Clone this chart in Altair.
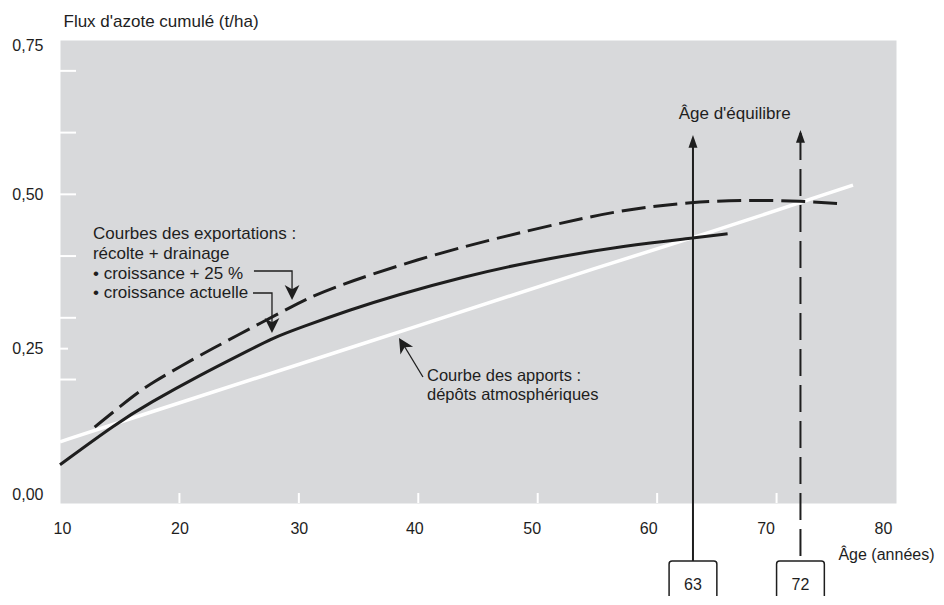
import altair as alt
import pandas as pd

FONT = "Liberation Sans"
INK = "#1e1e1e"
PANEL = "#d8d9db"

# ---------------- data ----------------
x_labels = [10, 20, 30, 40, 50, 60, 70, 80]
y_labels = [0, 0.25, 0.5, 0.75]
x_minor = [20, 30, 40, 50, 60, 70]
y_minor_long = [0.2, 0.3, 0.4, 0.5, 0.6, 0.7]
y_minor_short = [0.25]

# Courbe des apports : dépôts atmosphériques (white)
age_apports = [10, 14.8, 34.3, 57.7, 63, 76.4]
val_apports = [0.099, 0.130, 0.251, 0.399, 0.429, 0.515]

# Exportations, croissance actuelle (solid)
age_actuelle = [10, 14.8, 17.5, 21.7, 25.9, 27.8, 30.1, 34.3, 38.2, 43.7, 49.3, 57.7, 63, 65.9]
val_actuelle = [0.062, 0.130, 0.162, 0.207, 0.248, 0.267, 0.284, 0.313, 0.337, 0.366, 0.391, 0.418, 0.429, 0.436]

# Exportations, croissance + 25 % (dashed)
age_plus25 = [12.9, 15.9, 17.5, 21.7, 24.5, 29.5, 32.1, 41.0, 49.3, 56.9, 63, 68, 72, 75.3]
val_plus25 = [0.123, 0.170, 0.193, 0.239, 0.268, 0.319, 0.345, 0.402, 0.442, 0.475, 0.488, 0.491, 0.489, 0.485]

# Âges d'équilibre
eq_ages = [63, 72]
eq_labels = ["63", "72"]

# annotation texts (anchor in data units: age, value)
ann_text = ["Courbes des exportations :", "récolte + drainage",
            "• croissance + 25 %", "• croissance actuelle"]
ann_age = [12.76, 12.76, 12.76, 12.76]
ann_val = [0.4277, 0.3953, 0.3629, 0.3321]

app_text = ["Courbe des apports :", "dépôts atmosphériques"]
app_age = [40.73, 40.73]
app_val = [0.1975, 0.1665]

title_eq = "Âge d'équilibre"
title_eq_age = 66.49
title_eq_val = 0.622

# leader lines (annotation pointers)
lead_group = ["p25", "p25", "p25", "act", "act", "act", "app", "app"]
lead_age = [26.24, 29.43, 29.43, 26.16, 27.75, 27.75, 40.39, 38.72]
lead_val = [0.3758, 0.3758, 0.3418, 0.3402, 0.3402, 0.2883, 0.2041, 0.2576]

# arrow heads of the pointers
head_age = [29.43, 27.75, 38.71]
head_val = [0.341, 0.2875, 0.2569]
head_ang = [180, 180, 328.4]

# ---------------- frames ----------------
df_app = pd.DataFrame({"age": age_apports, "val": val_apports})
df_act = pd.DataFrame({"age": age_actuelle, "val": val_actuelle})
df_p25 = pd.DataFrame({"age": age_plus25, "val": val_plus25})
df_xt = pd.DataFrame({"age": x_minor})
df_ytl = pd.DataFrame({"val": y_minor_long})
df_yts = pd.DataFrame({"val": y_minor_short})
df_ann = pd.DataFrame({"age": ann_age, "val": ann_val, "t": ann_text})
df_appt = pd.DataFrame({"age": app_age, "val": app_val, "t": app_text})
df_eqt = pd.DataFrame({"age": [title_eq_age], "val": [title_eq_val], "t": [title_eq]})
df_lead = pd.DataFrame({"age": lead_age, "val": lead_val, "g": lead_group,
                        "o": list(range(len(lead_age)))})
df_head = pd.DataFrame({"age": head_age, "val": head_val, "ang": head_ang})

W, H = 836, 463
xs = alt.Scale(domain=[10, 80], nice=False, zero=False)
ys = alt.Scale(domain=[0, 0.75], nice=False, zero=False)

x_axis = alt.Axis(
    values=x_labels, format="d", domain=False, ticks=False, grid=False, labelFlush=False,
    labelPadding=17, labelFontSize=16, labelFont=FONT, labelColor=INK,
    labelOffset={"condition": [
        {"test": "datum.value >= 75", "value": -13},
        {"test": "datum.value >= 65", "value": -11},
        {"test": "datum.value >= 55", "value": -9},
        {"test": "datum.value >= 45", "value": -6},
        {"test": "datum.value >= 35", "value": -4},
        {"test": "datum.value <= 10", "value": 2},
    ], "value": 0},
    title="Âge (années)", titleX=874, titleY=56, titleAlign="right",
    titleBaseline="alphabetic", titleFontSize=16, titleFontWeight="normal",
    titleFont=FONT, titleColor=INK,
)
y_axis = alt.Axis(
    values=y_labels, labelExpr="replace(format(datum.value, '.2f'), '.', ',')",
    domain=False, ticks=False, grid=False, labelFlush=False,
    labelPadding=17, labelFontSize=16, labelFont=FONT, labelColor=INK,
    labelOffset={"condition": [
        {"test": "datum.value == 0", "value": -9},
        {"test": "datum.value == 0.75", "value": 5},
    ], "value": 0},
    title="Flux d'azote cumulé (t/ha)", titleAngle=0, titleX=3, titleY=-14,
    titleAlign="left", titleBaseline="alphabetic", titleFontSize=17,
    titleFontWeight="normal", titleFont=FONT, titleColor=INK,
)


def X(f="age"):
    return alt.X(f"{f}:Q", scale=xs, axis=x_axis)


def Y(f="val"):
    return alt.Y(f"{f}:Q", scale=ys, axis=y_axis)


layers = []

# white ticks inside the panel
layers.append(alt.Chart(df_ytl).mark_rule(color="white", strokeWidth=2).encode(
    x=alt.value(0), x2=alt.value(16), y=Y()))
layers.append(alt.Chart(df_yts).mark_rule(color="white", strokeWidth=2).encode(
    x=alt.value(0), x2=alt.value(8), y=Y()))
layers.append(alt.Chart(df_xt).mark_rule(color="white", strokeWidth=2).encode(
    x=X(), y=alt.value(H), y2=alt.value(H - 10)))

# curves
layers.append(alt.Chart(df_app).mark_line(color="white", strokeWidth=3.5,
                                          interpolate="basis").encode(x=X(), y=Y()))
layers.append(alt.Chart(df_act).mark_line(color=INK, strokeWidth=3,
                                          interpolate="basis").encode(x=X(), y=Y()))
layers.append(alt.Chart(df_p25).mark_line(color=INK, strokeWidth=3, strokeDash=[24, 8],
                                          interpolate="basis").encode(x=X(), y=Y()))

# equilibrium verticals, arrow heads and boxes
UP_HEAD = "M0,-1L0.56,0.6L-0.56,0.6Z"
eq_styles = [dict(dash=[1, 0], top=98, head=103), dict(dash=[27, 9], top=93, head=98)]
for a, lab, st in zip(eq_ages, eq_labels, eq_styles):
    d = pd.DataFrame({"age": [a], "t": [lab]})
    layers.append(alt.Chart(d).mark_rule(color=INK, strokeWidth=2, strokeDash=st["dash"]).encode(
        x=X(), y=alt.value(st["top"]), y2=alt.value(521)))
    layers.append(alt.Chart(d).mark_point(shape=UP_HEAD, filled=True, color=INK, size=256,
                                          opacity=1).encode(x=X(), y=alt.value(st["head"])))
    layers.append(alt.Chart(d).transform_calculate(lo="datum.age - 2", hi="datum.age + 2")
                  .mark_rect(fillOpacity=0, stroke=INK, strokeWidth=1.5, cornerRadius=3)
                  .encode(x=X("lo"), x2="hi:Q", y=alt.value(521), y2=alt.value(640)))
    layers.append(alt.Chart(d).mark_text(font=FONT, fontSize=16, color=INK, baseline="alphabetic",
                                         align="center").encode(
        x=X(), y=alt.value(550), text="t:N"))

# pointer lines and heads
layers.append(alt.Chart(df_lead).mark_line(color=INK, strokeWidth=1.3).encode(
    x=X(), y=Y(), detail="g:N", order="o:Q"))
ARROW = "M0,-1L1,1L0,0.45L-1,1Z"
layers.append(alt.Chart(df_head).mark_point(shape=ARROW, filled=True, color=INK, size=220,
                                            opacity=1).encode(
    x=X(), y=Y(), angle=alt.Angle("ang:Q", scale=None)))

# texts
layers.append(alt.Chart(df_ann).mark_text(font=FONT, fontSize=17, color=INK, align="left",
                                          baseline="alphabetic").encode(x=X(), y=Y(), text="t:N"))
layers.append(alt.Chart(df_appt).mark_text(font=FONT, fontSize=16.5, color=INK, align="left",
                                           baseline="alphabetic").encode(x=X(), y=Y(), text="t:N"))
layers.append(alt.Chart(df_eqt).mark_text(font=FONT, fontSize=17, color=INK, align="center",
                                          baseline="alphabetic").encode(x=X(), y=Y(), text="t:N"))

chart = alt.layer(*layers).properties(
    width=W, height=H,
    autosize=alt.AutoSizeParams(type="none"),
    padding={"left": 52, "top": 32, "right": 40, "bottom": 93},
    background="white",
).configure_view(fill=PANEL, stroke="transparent")

chart.save("out.html", embed_options={"renderer": "svg", "actions": False})
